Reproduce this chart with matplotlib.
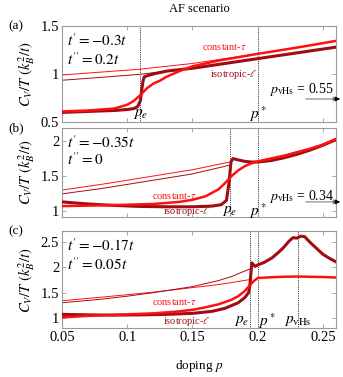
import numpy as np
import matplotlib
matplotlib.use("Agg")
import matplotlib.pyplot as plt

plt.rcParams["font.family"] = ["Liberation Serif", "DejaVu Serif"]
plt.rcParams["mathtext.fontset"] = "stix"

RED = "#ff1010"
DARK = "#a00c14"
GRAY = "#9a9a9a"

# ---- panel (a): t'=-0.3t, t''=0.2t
a_norm_p = [0.05, 0.08, 0.11, 0.13, 0.15, 0.175, 0.2, 0.23, 0.26]
a_ct_norm = [0.99, 1.02, 1.05, 1.08, 1.11, 1.16, 1.21, 1.275, 1.345]
a_iso_norm = [0.935, 0.965, 0.997, 1.03, 1.06, 1.11, 1.16, 1.22, 1.28]
a_ct_p = [0.05, 0.07, 0.09, 0.1, 0.105, 0.11, 0.115, 0.12, 0.125, 0.13, 0.14, 0.15, 0.16, 0.17,
          0.2, 0.23, 0.26]
a_ct = [0.61, 0.62, 0.64, 0.68, 0.72, 0.78, 0.85, 0.9, 0.93, 0.97, 1.03, 1.08, 1.11, 1.14,
        1.21, 1.275, 1.345]
a_iso_p = [0.05, 0.07, 0.09, 0.1, 0.105, 0.108, 0.11, 0.111, 0.112, 0.113, 0.116, 0.12, 0.13,
           0.15, 0.175, 0.2, 0.23, 0.26]
a_iso = [0.60, 0.61, 0.62, 0.63, 0.64, 0.66, 0.72, 0.82, 0.92, 0.97, 0.985, 1.0, 1.03,
         1.06, 1.11, 1.16, 1.22, 1.28]

# ---- panel (b): t'=-0.35t, t''=0
b_norm_p = [0.05, 0.08, 0.1, 0.12, 0.15, 0.1786]
b_ct_norm = [1.30, 1.38, 1.44, 1.50, 1.59, 1.70]
b_iso_norm = [1.245, 1.32, 1.38, 1.44, 1.53, 1.655]
b_ct_p = [0.05, 0.08, 0.1, 0.12, 0.14, 0.15, 0.16, 0.17, 0.175, 0.18, 0.185, 0.19, 0.195,
          0.2, 0.21, 0.22, 0.23, 0.24, 0.25, 0.26]
b_ct = [1.07, 1.08, 1.09, 1.10, 1.13, 1.16, 1.21, 1.31, 1.40, 1.50, 1.58, 1.64, 1.68,
        1.71, 1.75, 1.79, 1.84, 1.89, 1.95, 2.03]
b_iso_p = [0.05, 0.07, 0.09, 0.11, 0.13, 0.15, 0.165, 0.172, 0.176, 0.178, 0.1795, 0.181,
           0.185, 0.19, 0.195, 0.2, 0.21, 0.22, 0.23, 0.24, 0.25, 0.26]
b_iso = [1.13, 1.10, 1.08, 1.065, 1.06, 1.06, 1.07, 1.09, 1.15, 1.40, 1.70, 1.75,
         1.73, 1.71, 1.70, 1.70, 1.72, 1.76, 1.81, 1.87, 1.94, 2.02]

# ---- panel (c): t'=-0.17t, t''=0.05t
c_norm_p = [0.05, 0.08, 0.1, 0.12, 0.15, 0.17, 0.18, 0.194]
c_ct_norm = [1.34, 1.41, 1.46, 1.51, 1.60, 1.66, 1.70, 1.76]
c_iso_norm = [1.30, 1.37, 1.43, 1.50, 1.62, 1.74, 1.82, 1.97]
c_ct_p = [0.05, 0.07, 0.09, 0.1, 0.12, 0.14, 0.15, 0.16, 0.17, 0.18, 0.185, 0.19, 0.194,
          0.197, 0.2, 0.21, 0.22, 0.23, 0.24, 0.25, 0.26]
c_ct = [1.01, 1.04, 1.06, 1.07, 1.09, 1.13, 1.16, 1.21, 1.27, 1.36, 1.43, 1.53, 1.65,
        1.73, 1.79, 1.805, 1.815, 1.82, 1.815, 1.81, 1.80]
c_iso_p = [0.05, 0.07, 0.09, 0.11, 0.13, 0.15, 0.165, 0.175, 0.185, 0.19, 0.193, 0.194,
           0.195, 0.1955, 0.198, 0.2, 0.205, 0.211, 0.216, 0.22, 0.224, 0.227, 0.23, 0.233,
           0.236, 0.24, 0.245, 0.25, 0.255, 0.26]
c_iso = [1.07, 1.06, 1.055, 1.06, 1.07, 1.09, 1.13, 1.19, 1.30, 1.40, 1.50, 1.65,
         1.95, 2.09, 2.02, 2.05, 2.10, 2.19, 2.30, 2.40, 2.52, 2.59, 2.58, 2.62,
         2.61, 2.50, 2.38, 2.26, 2.18, 2.11]

panels = [
    dict(tag="(a)", ylim=(0.5, 1.5), yticks=[0.5, 1, 1.5], yticklabels=["0.5", "1", "1.5"],
         params=[r"$t' = -0.3t$", r"$t'' = 0.2t$"],
         norm=(a_norm_p, a_ct_norm, a_iso_norm), ct=(a_ct_p, a_ct), iso=(a_iso_p, a_iso),
         pe=0.110, pvhs_text="0.55", ct_lab=(0.174, 1.28), iso_lab=(0.182, 0.99),
         mark_y=0.58, vhs_y=0.84, arrow_y=0.74),
    dict(tag="(b)", ylim=(0.914, 2.186), yticks=[1, 1.5, 2], yticklabels=["1", "1.5", "2"],
         params=[r"$t' = -0.35t$", r"$t'' = 0$"],
         norm=(b_norm_p, b_ct_norm, b_iso_norm), ct=(b_ct_p, b_ct), iso=(b_iso_p, b_iso),
         pe=0.1786, pvhs_text="0.34", ct_lab=(0.136, 1.21), iso_lab=(0.146, 0.99),
         mark_y=1.0, vhs_y=1.2, arrow_y=1.13),
    dict(tag="(c)", ylim=(0.80, 2.72), yticks=[1, 1.5, 2, 2.5],
         yticklabels=["1", "1.5", "2", "2.5"],
         params=[r"$t' = -0.17t$", r"$t'' = 0.05t$"],
         norm=(c_norm_p, c_ct_norm, c_iso_norm), ct=(c_ct_p, c_ct), iso=(c_iso_p, c_iso),
         pe=0.194, pvhs=0.2305, ct_lab=(0.136, 1.32), iso_lab=(0.146, 0.93),
         mark_y=0.94),
]

fig = plt.figure(figsize=(3.43, 3.77), dpi=100)
boxes = [(0.6764, 0.2546), (0.4244, 0.236), (0.13, 0.257)]
left, width = 62 / 343, 274 / 343

for i, (pan, (b, h)) in enumerate(zip(panels, boxes)):
    ax = fig.add_axes([left, b, width, h])
    for s in ax.spines.values():
        s.set_color(GRAY)
        s.set_linewidth(0.8)
    ax.tick_params(direction="in", top=True, right=True, color=GRAY, length=3,
                   width=0.6, labelsize=10.5, pad=2)
    ax.set_xlim(0.05, 0.26)
    ax.set_ylim(*pan["ylim"])
    ax.set_xticks([0.05, 0.1, 0.15, 0.2, 0.25])
    ax.set_yticks(pan["yticks"])
    ax.set_yticklabels(pan["yticklabels"])
    if i < 2:
        ax.set_xticklabels([])
    else:
        ax.set_xticklabels(["0.05", "0.1", "0.15", "0.2", "0.25"])
        ax.set_xlabel(r"doping $p$", fontsize=9.5, labelpad=10)
    ax.set_ylabel(r"$C_V/T\ (k_B^2/t)$", fontsize=10.5, labelpad=3)

    # dotted markers
    for xv in [pan["pe"], 0.2] + ([pan["pvhs"]] if "pvhs" in pan else []):
        ax.axvline(xv, color="black", ls=(0, (1, 1.2)), lw=0.6, zorder=1)

    np_, ctn, ison = pan["norm"]
    ax.plot(np_, ctn, color=RED, lw=0.7, zorder=2)
    ax.plot(np_, ison, color=DARK, lw=0.7, zorder=2)
    ax.plot(*pan["iso"], color=DARK, lw=2.2, zorder=3, solid_joinstyle="round")
    ax.plot(*pan["ct"], color=RED, lw=1.8, zorder=4, solid_joinstyle="round")

    ax.text(*pan["ct_lab"], r"constant-$\tau$", color=RED, fontsize=7.5,
            ha="center", va="center")
    ax.text(*pan["iso_lab"], r"isotropic-$\ell$", color=DARK, fontsize=7.5,
            ha="center", va="center")

    ax.text(0.02, 0.93, pan["params"][0], transform=ax.transAxes, fontsize=11,
            ha="left", va="top")
    ax.text(0.02, 0.74, pan["params"][1], transform=ax.transAxes, fontsize=11,
            ha="left", va="top")

    if i < 2:
        ax.text(pan["pe"], pan["mark_y"], r"$p_e$", fontsize=11, ha="center", va="center")
        ax.text(0.2, pan["mark_y"], r"$p^*$", fontsize=11, ha="center", va="center")
        ax.text(0.2585, pan["vhs_y"], r"$p_{\rm vHs}$ = " + pan["pvhs_text"], fontsize=10,
                ha="right", va="center")
        ax.annotate("", xy=(1.01, pan["arrow_y"]), xytext=(0.89, pan["arrow_y"]),
                    xycoords=("axes fraction", "data"),
                    arrowprops=dict(arrowstyle="-|>", color=GRAY, lw=1.0,
                                    mutation_scale=7, shrinkA=0, shrinkB=0),
                    annotation_clip=False)
        ax.annotate("", xy=(1.015, pan["arrow_y"]), xytext=(0.99, pan["arrow_y"]),
                    xycoords=("axes fraction", "data"),
                    arrowprops=dict(arrowstyle="-|>", color="black", lw=0.6,
                                    mutation_scale=7, shrinkA=0, shrinkB=0),
                    annotation_clip=False)
    else:
        ax.text(pan["pe"] - 0.0005, pan["mark_y"], r"$p_e$", fontsize=11, ha="right",
                va="center")
        ax.text(0.2005, pan["mark_y"], r"$p^*$", fontsize=11, ha="left", va="center")
        ax.text(pan["pvhs"], pan["mark_y"], r"$p_{\rm vHs}$", fontsize=11, ha="center",
                va="center")

    fig.text(0.025, b + h, pan["tag"], fontsize=9.5, ha="left", va="center")

fig.text(0.58, 0.975, "AF scenario", fontsize=9, ha="center", va="center")

fig.savefig("out.png", dpi=100)
